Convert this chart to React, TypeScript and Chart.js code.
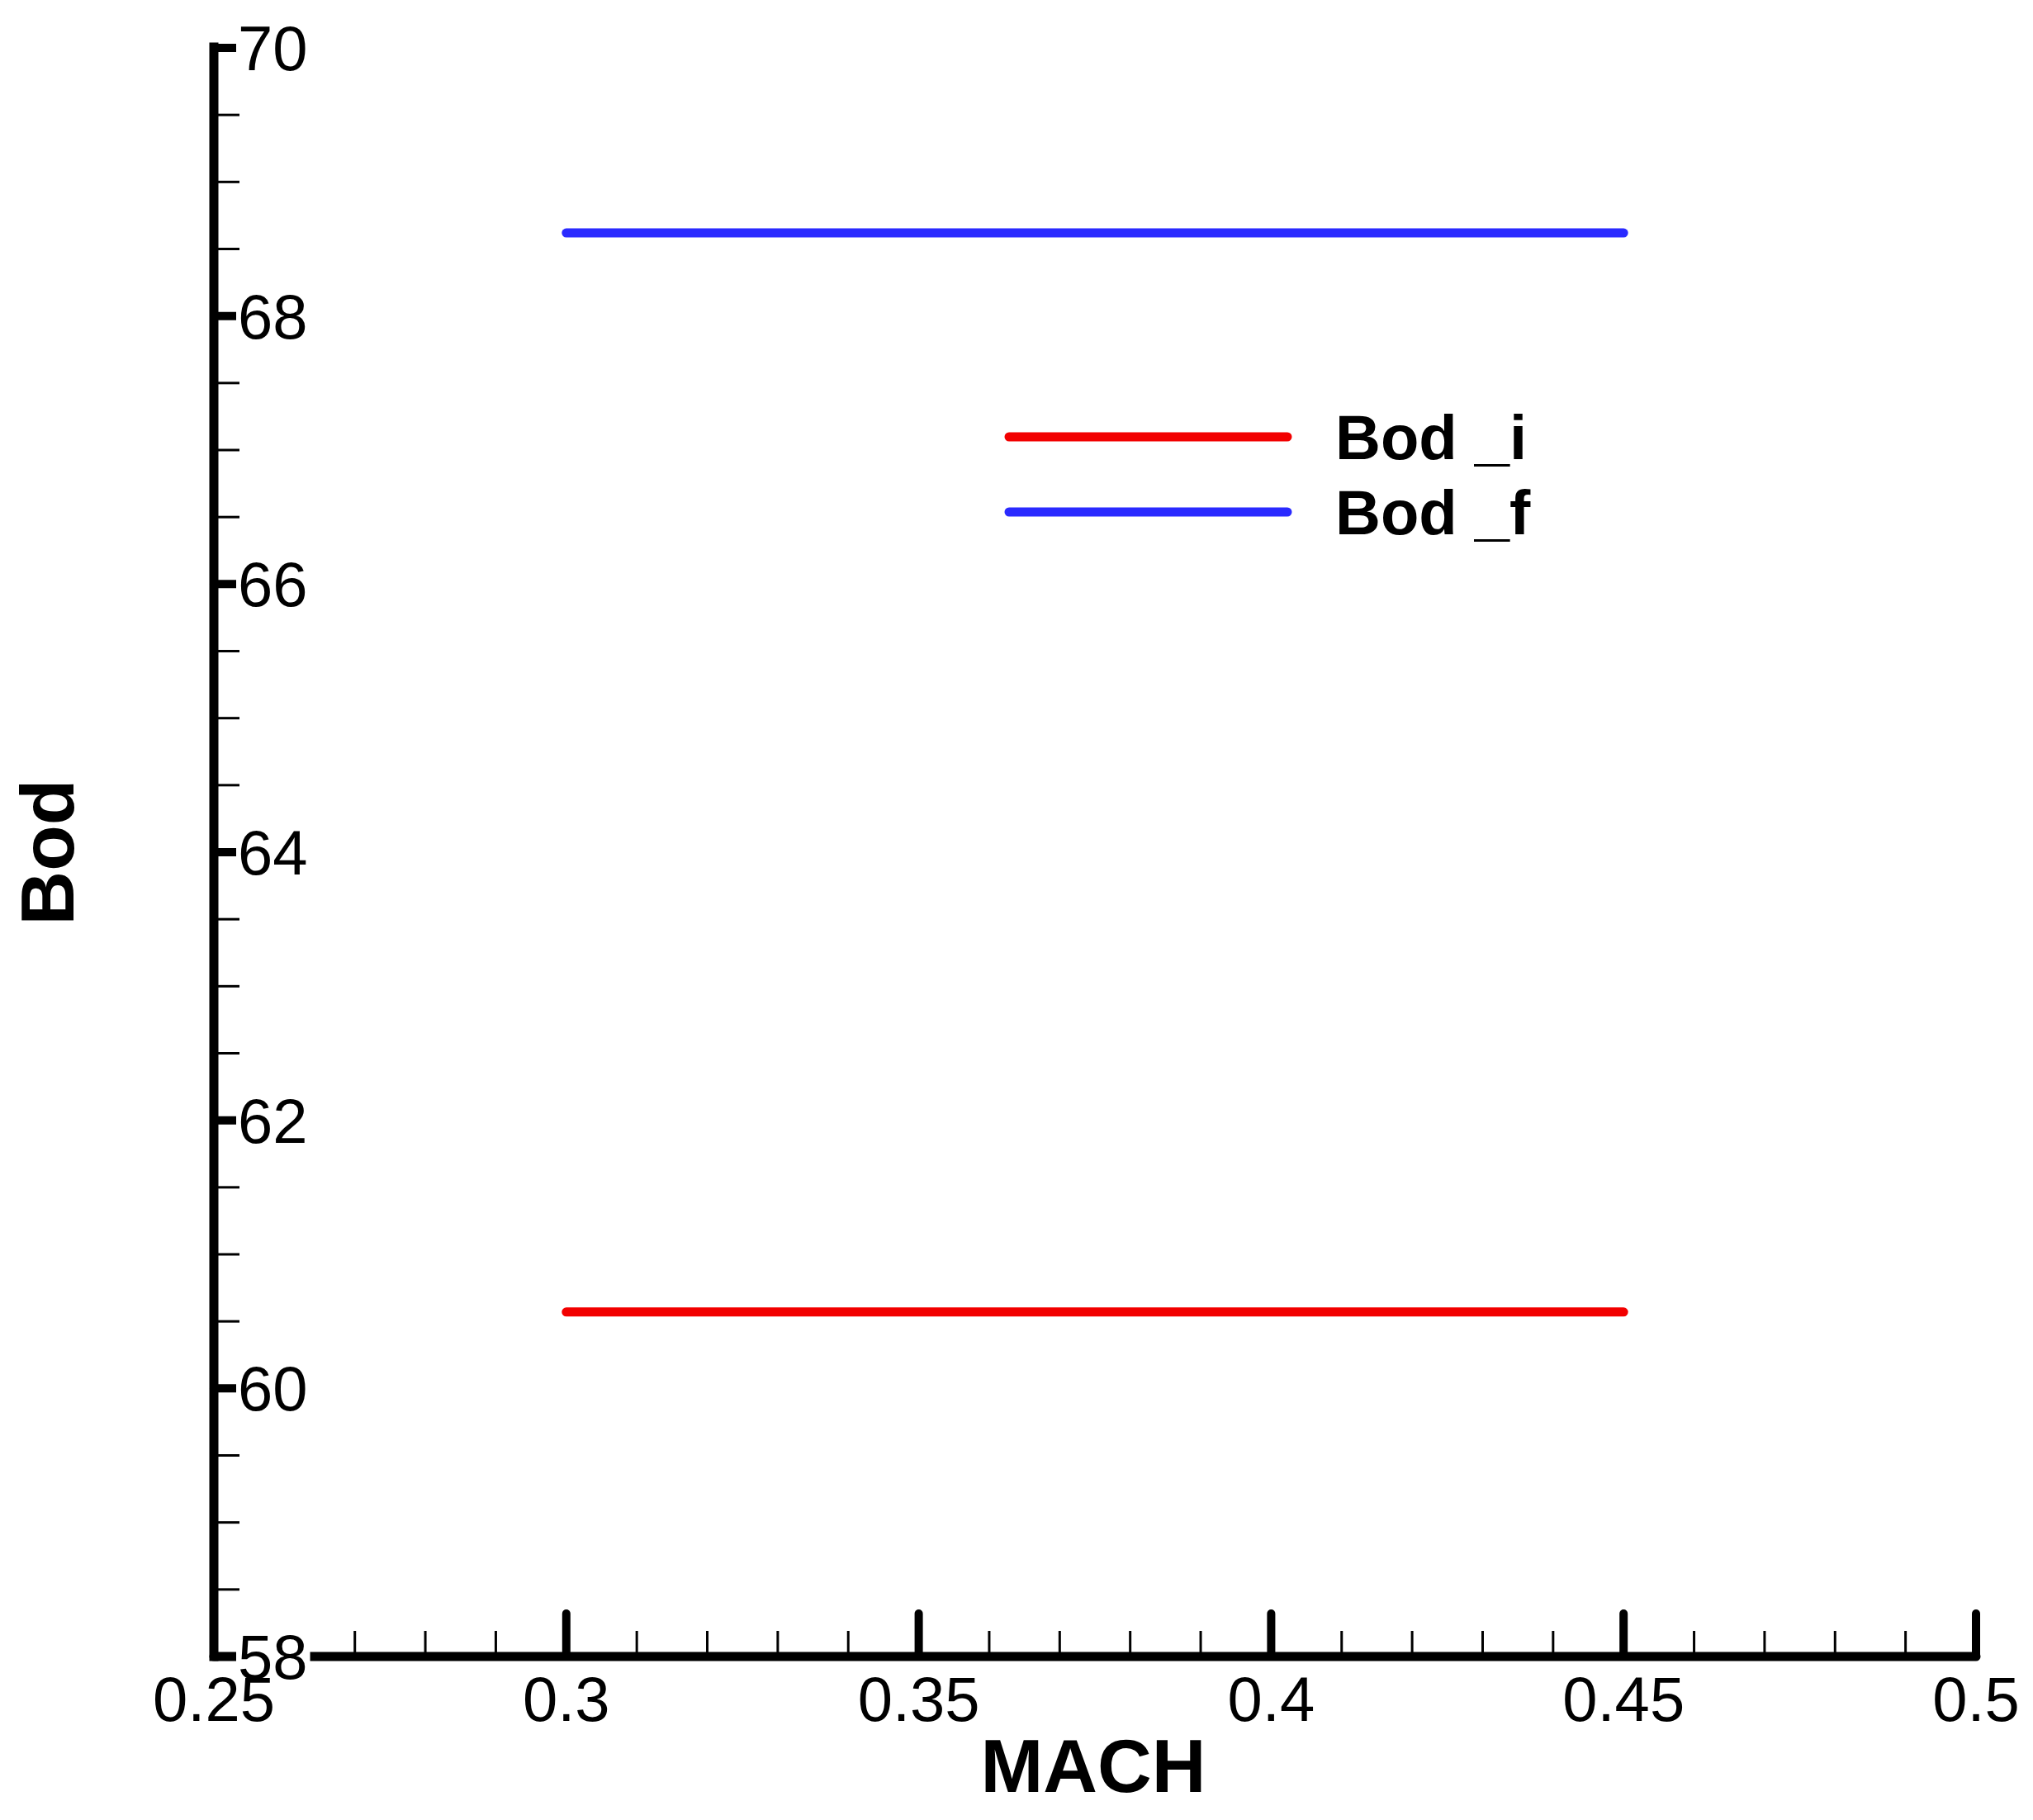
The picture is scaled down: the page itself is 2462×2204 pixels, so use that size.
import React, { useEffect, useRef } from "react";
import { Chart, registerables } from "chart.js";

Chart.register(...registerables);

const machValues = [0.3, 0.35, 0.4, 0.45];
const bodInitial = [60.57, 60.57, 60.57, 60.57];
const bodFinal = [68.62, 68.62, 68.62, 68.62];
const seriesNames = ["Bod _i", "Bod _f"];
const seriesColors = ["#f20000", "#2a2aff"];
const xTickLabels = ["0.25", "0.3", "0.35", "0.4", "0.45", "0.5"];
const yTickLabels = ["58", "60", "62", "64", "66", "68", "70"];
const xTitle = "MACH";
const yTitle = "Bod";

const W = 2462;
const H = 2204;

const axesPlugin = {
  id: "tecplotAxes",
  afterDatasetsDraw(chart: any) {
    const ctx: CanvasRenderingContext2D = chart.ctx;
    const xs = chart.scales.x;
    const ys = chart.scales.y;
    const x0 = xs.getPixelForValue(0.25);
    const x1 = xs.getPixelForValue(0.5);
    const y0 = ys.getPixelForValue(58);
    const y1 = ys.getPixelForValue(70);
    ctx.save();
    ctx.strokeStyle = "#000";
    ctx.fillStyle = "#000";

    // minor ticks
    ctx.lineWidth = 3;
    ctx.lineCap = "butt";
    const xMajor = xTickLabels.map(Number);
    for (let i = 0; i < xMajor.length - 1; i++) {
      for (let k = 1; k < 5; k++) {
        const v = xMajor[i] + ((xMajor[i + 1] - xMajor[i]) * k) / 5;
        const px = xs.getPixelForValue(v);
        ctx.beginPath();
        ctx.moveTo(px, y0);
        ctx.lineTo(px, y0 - 31);
        ctx.stroke();
      }
    }
    const yMajor = yTickLabels.map(Number);
    for (let i = 0; i < yMajor.length - 1; i++) {
      for (let k = 1; k < 4; k++) {
        const v = yMajor[i] + ((yMajor[i + 1] - yMajor[i]) * k) / 4;
        const py = ys.getPixelForValue(v);
        ctx.beginPath();
        ctx.moveTo(x0, py);
        ctx.lineTo(x0 + 31, py);
        ctx.stroke();
      }
    }

    // major ticks
    ctx.lineWidth = 10;
    ctx.lineCap = "round";
    xMajor.forEach((v) => {
      const px = xs.getPixelForValue(v);
      ctx.beginPath();
      ctx.moveTo(px, y0);
      ctx.lineTo(px, y0 - 52);
      ctx.stroke();
    });
    yMajor.forEach((v) => {
      const py = ys.getPixelForValue(v);
      ctx.beginPath();
      ctx.moveTo(x0, py);
      ctx.lineTo(x0 + 52, py);
      ctx.stroke();
    });

    // axis lines
    ctx.lineWidth = 11;
    ctx.lineCap = "square";
    ctx.beginPath();
    ctx.moveTo(x0, y1 - 1);
    ctx.lineTo(x0, y0);
    ctx.stroke();
    ctx.lineCap = "round";
    ctx.beginPath();
    ctx.moveTo(x0, y0);
    ctx.lineTo(x1, y0);
    ctx.stroke();

    // y tick labels with white boxes
    ctx.font = "76px 'Liberation Sans', Arial, sans-serif";
    ctx.textAlign = "left";
    ctx.textBaseline = "alphabetic";
    yTickLabels.forEach((lab) => {
      const py = ys.getPixelForValue(Number(lab));
      const tw = ctx.measureText(lab).width;
      const tx = x0 + 29;
      ctx.fillStyle = "#fff";
      ctx.fillRect(tx - 2, py - 34, tw + 5, 68);
      ctx.fillStyle = "#000";
      ctx.fillText(lab, tx, py + 27);
    });

    // x tick labels
    ctx.textAlign = "center";
    xTickLabels.forEach((lab) => {
      const px = xs.getPixelForValue(Number(lab));
      ctx.fillText(lab, px, y0 + 78);
    });

    // axis titles
    ctx.font = "bold 91px 'Liberation Sans', Arial, sans-serif";
    ctx.textAlign = "center";
    ctx.fillText(xTitle, (x0 + x1) / 2 - 2, 2170);
    ctx.save();
    ctx.translate(89, (y0 + y1) / 2);
    ctx.rotate(-Math.PI / 2);
    ctx.fillText(yTitle, 0, 0);
    ctx.restore();

    // legend
    const legY = [529, 620];
    ctx.font = "bold 76px 'Liberation Sans', Arial, sans-serif";
    ctx.textAlign = "left";
    seriesNames.forEach((name, i) => {
      ctx.strokeStyle = seriesColors[i];
      ctx.lineWidth = 11;
      ctx.lineCap = "round";
      ctx.beginPath();
      ctx.moveTo(1222, legY[i]);
      ctx.lineTo(1559, legY[i]);
      ctx.stroke();
      ctx.fillStyle = "#000";
      ctx.fillText(name, 1617, legY[i] + 27);
    });

    ctx.restore();
  },
};

export default function App() {
  const ref = useRef<HTMLCanvasElement | null>(null);
  useEffect(() => {
    if (!ref.current) return;
    const chart = new Chart(ref.current, {
      type: "line",
      data: {
        datasets: [
          {
            label: seriesNames[0],
            data: machValues.map((x, i) => ({ x, y: bodInitial[i] })),
            borderColor: seriesColors[0],
            borderWidth: 11,
            borderCapStyle: "round",
            pointRadius: 0,
            fill: false,
            clip: false as any,
          },
          {
            label: seriesNames[1],
            data: machValues.map((x, i) => ({ x, y: bodFinal[i] })),
            borderColor: seriesColors[1],
            borderWidth: 11,
            borderCapStyle: "round",
            pointRadius: 0,
            fill: false,
            clip: false as any,
          },
        ],
      },
      options: {
        animation: false,
        responsive: false,
        devicePixelRatio: 1,
        layout: { padding: { left: 259, right: 69, top: 58, bottom: 198 } },
        scales: {
          x: { type: "linear", min: 0.25, max: 0.5, display: false },
          y: { type: "linear", min: 58, max: 70, display: false },
        },
        plugins: { legend: { display: false }, tooltip: { enabled: false } },
      },
      plugins: [axesPlugin],
    });
    return () => chart.destroy();
  }, []);
  return (
    <div style={{ position: "fixed", left: 0, top: 0, width: W, height: H, background: "#fff" }}>
      <canvas ref={ref} width={W} height={H} style={{ display: "block", width: W, height: H }} />
    </div>
  );
}
